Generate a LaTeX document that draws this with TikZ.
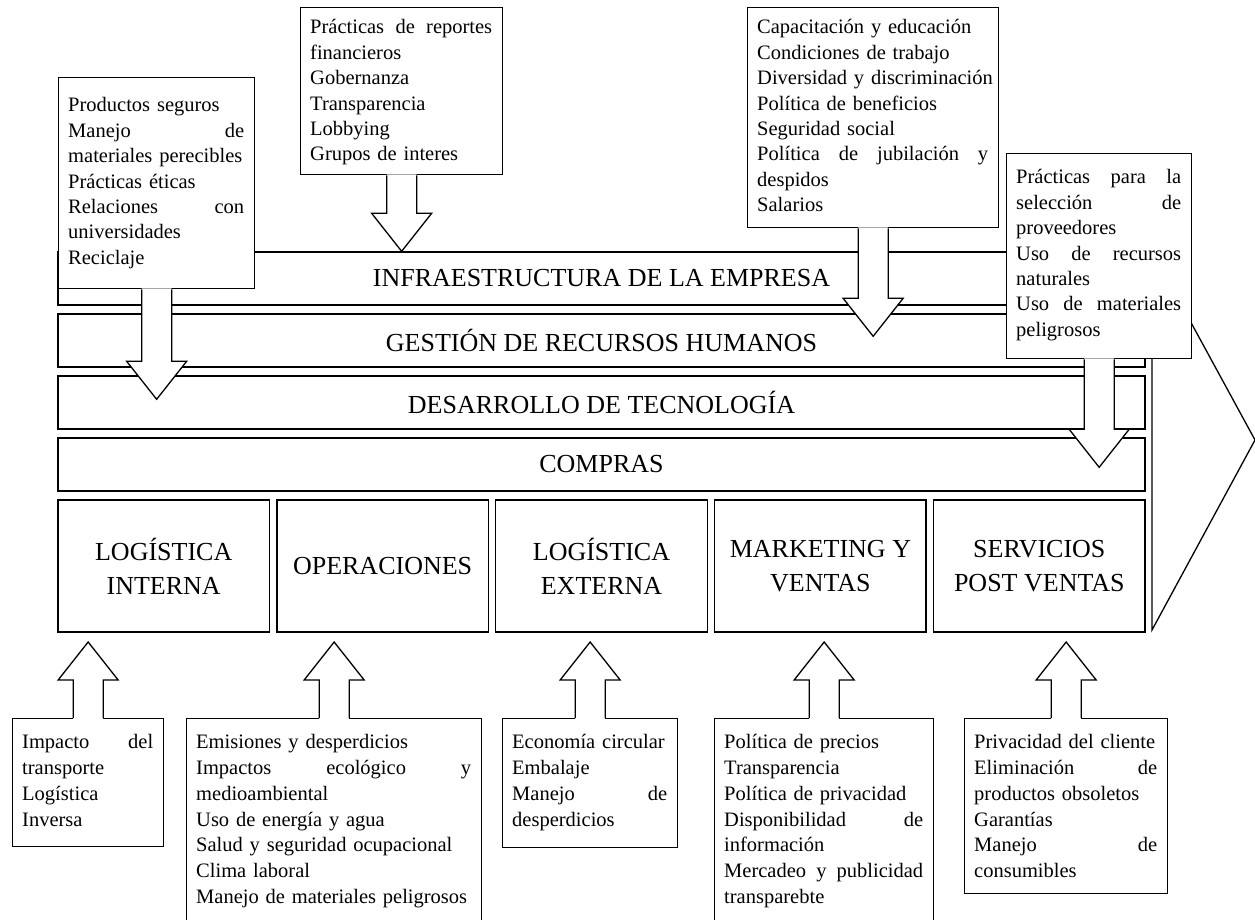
\documentclass[tikz,border=0pt]{standalone}
\usepackage{fontspec}
\setmainfont{Liberation Serif}
\newcommand{\spr}[1]{\leavevmode\hbox to\hsize{#1}}
\newcommand{\arrdn}[2]{%
  \fill[white] ([xshift=-15pt,yshift=1pt]#1.south) -- ++(0,#2+1) -- ++(-15,0) -- ++(30,38) -- ++(30,-38) -- ++(-15,0) -- ++(0,-#2-1) -- cycle;
  \draw[arr] ([xshift=-15pt]#1.south) -- ++(0,#2) -- ++(-15,0) -- ++(30,38) -- ++(30,-38) -- ++(-15,0) -- ++(0,-#2);
}
\newcommand{\arrup}[2]{%
  \fill[white] ([xshift=-15pt,yshift=-1pt]#1.north) -- ++(0,-#2-1) -- ++(-15,0) -- ++(30,-38) -- ++(30,38) -- ++(-15,0) -- ++(0,#2+1) -- cycle;
  \draw[arr] ([xshift=-15pt]#1.north) -- ++(0,-#2) -- ++(-15,0) -- ++(30,-38) -- ++(30,38) -- ++(-15,0) -- ++(0,#2);
}
\tikzset{
  band/.style={draw, fill=white, line width=1.3pt, minimum width=1087pt, minimum height=53pt, inner sep=0pt, font=\fontsize{26}{30}\selectfont},
  pbox/.style={draw, fill=white, line width=1.3pt, minimum width=211.4pt, minimum height=132pt, inner sep=0pt, align=center, font=\fontsize{26}{34}\selectfont},
  cbox/.style={draw, fill=white, line width=1.3pt, anchor=north west, inner sep=0pt},
  ctext/.style={anchor=north west, inner sep=0pt, align=left, font=\fontsize{20.5}{25.4}\selectfont},
  btext/.style={anchor=north west, inner sep=0pt, align=left, font=\fontsize{20.5}{25.9}\selectfont},
  arr/.style={line width=1.3pt, line join=miter},
  chev/.style={line width=1.3pt, line join=miter}
}
\begin{document}
\begin{tikzpicture}[x=1pt,y=-1pt]
\fill[white] (0,0) rectangle (1255,920);
\useasboundingbox (0,0) rectangle (1255,920);

% support activities
\node[band] (infra) at (601.5,278.5) {INFRAESTRUCTURA DE LA EMPRESA};
\node[band] (rrhh) at (601.5,340.5) {GESTIÓN DE RECURSOS HUMANOS};
\node[band] (tec) at (601.5,402.5) {DESARROLLO DE TECNOLOGÍA};
\node[band] (comp) at (601.5,464.5) {COMPRAS};

% primary activities
\node[pbox] (li) at (163.7,566) {LOGÍSTICA\\INTERNA};
\node[pbox] (op) at (382.6,566) {OPERACIONES};
\node[pbox] (le) at (601.5,566) {LOGÍSTICA\\EXTERNA};
\node[pbox] (mv) at (820.4,566) {MARKETING Y\\VENTAS};
\node[pbox] (sp) at (1039.3,566) {SERVICIOS\\POST VENTAS};

% margin chevron
\coordinate (chtop) at (1152,251);
\coordinate (chtip) at (1255,440);
\coordinate (chbot) at (1152,630);
\draw[chev] (chtop) -- (chtip) -- (chbot) -- cycle;

% top callouts
\node[cbox, minimum width=196pt, minimum height=211pt] (bL) at (58,77) {};
\arrdn{bL}{72}
\node[ctext, text width=176pt] (tL) at (68,94) {\strut Productos seguros\\ \spr{Manejo\hfill de}\\ \mbox{materiales perecibles}\\ Prácticas éticas\\ \spr{Relaciones\hfill con}\\ universidades\\ Reciclaje};

\node[cbox, minimum width=202pt, minimum height=167pt] (bM) at (300,7) {};
\arrdn{bM}{38}
\node[ctext, text width=182pt] (tM) at (310,16) {\strut\spr{Prácticas\hfill de\hfill reportes}\\ financieros\\ Gobernanza\\ Transparencia\\ Lobbying\\ Grupos de interes};

\node[cbox, minimum width=251pt, minimum height=220pt] (bC) at (747,7) {};
\arrdn{bC}{70}
\node[ctext, text width=231pt] (tC) at (757,16) {\strut\mbox{Capacitación y educación}\\ Condiciones de trabajo\\ \mbox{Diversidad y discriminación}\\ Política de beneficios\\ Seguridad social\\ \spr{Política\hfill de\hfill jubilación\hfill y}\\ despidos\\ Salarios};

\node[cbox, minimum width=185pt, minimum height=205pt] (bR) at (1006,153) {};
\arrdn{bR}{70}
\node[ctext, text width=165pt] (tR) at (1016,166) {\strut\spr{Prácticas\hfill para\hfill la}\\ \spr{selección\hfill de}\\ proveedores\\ \spr{Uso\hfill de\hfill recursos}\\ naturales\\ \spr{Uso\hfill de\hfill materiales}\\ peligrosos};

% bottom callouts
\node[cbox, minimum width=151pt, minimum height=128pt] (b1) at (12,718) {};
\arrup{b1}{38}
\node[btext, text width=131pt] (t1) at (22,730) {\strut\spr{Impacto\hfill del}\\ transporte\\ Logística\\ Inversa};

\node[cbox, minimum width=295pt, minimum height=222pt] (b2) at (186,718) {};
\arrup{b2}{38}
\node[btext, text width=275pt] (t2) at (196,730) {\strut Emisiones y desperdicios\\ \spr{Impactos\hfill ecológico\hfill y}\\ medioambiental\\ Uso de energía y agua\\ \mbox{Salud y seguridad ocupacional}\\ Clima laboral\\ \mbox{Manejo de materiales peligrosos}};

\node[cbox, minimum width=175pt, minimum height=129pt] (b3) at (502,718) {};
\arrup{b3}{38}
\node[btext, text width=155pt] (t3) at (512,730) {\strut\mbox{Economía circular}\\ Embalaje\\ \spr{Manejo\hfill de}\\ desperdicios};

\node[cbox, minimum width=219pt, minimum height=222pt] (b4) at (714,718) {};
\arrup{b4}{38}
\node[btext, text width=199pt] (t4) at (724,730) {\strut Política de precios\\ Transparencia\\ \mbox{Política de privacidad}\\ \spr{Disponibilidad\hfill de}\\ información\\ \spr{Mercadeo\hfill y\hfill publicidad}\\ transparebte};

\node[cbox, minimum width=203pt, minimum height=175pt] (b5) at (964,718) {};
\arrup{b5}{38}
\node[btext, text width=183pt] (t5) at (974,730) {\strut\mbox{Privacidad del cliente}\\ \spr{Eliminación\hfill de}\\ \mbox{productos obsoletos}\\ Garantías\\ \spr{Manejo\hfill de}\\ consumibles};
\end{tikzpicture}
\end{document}
